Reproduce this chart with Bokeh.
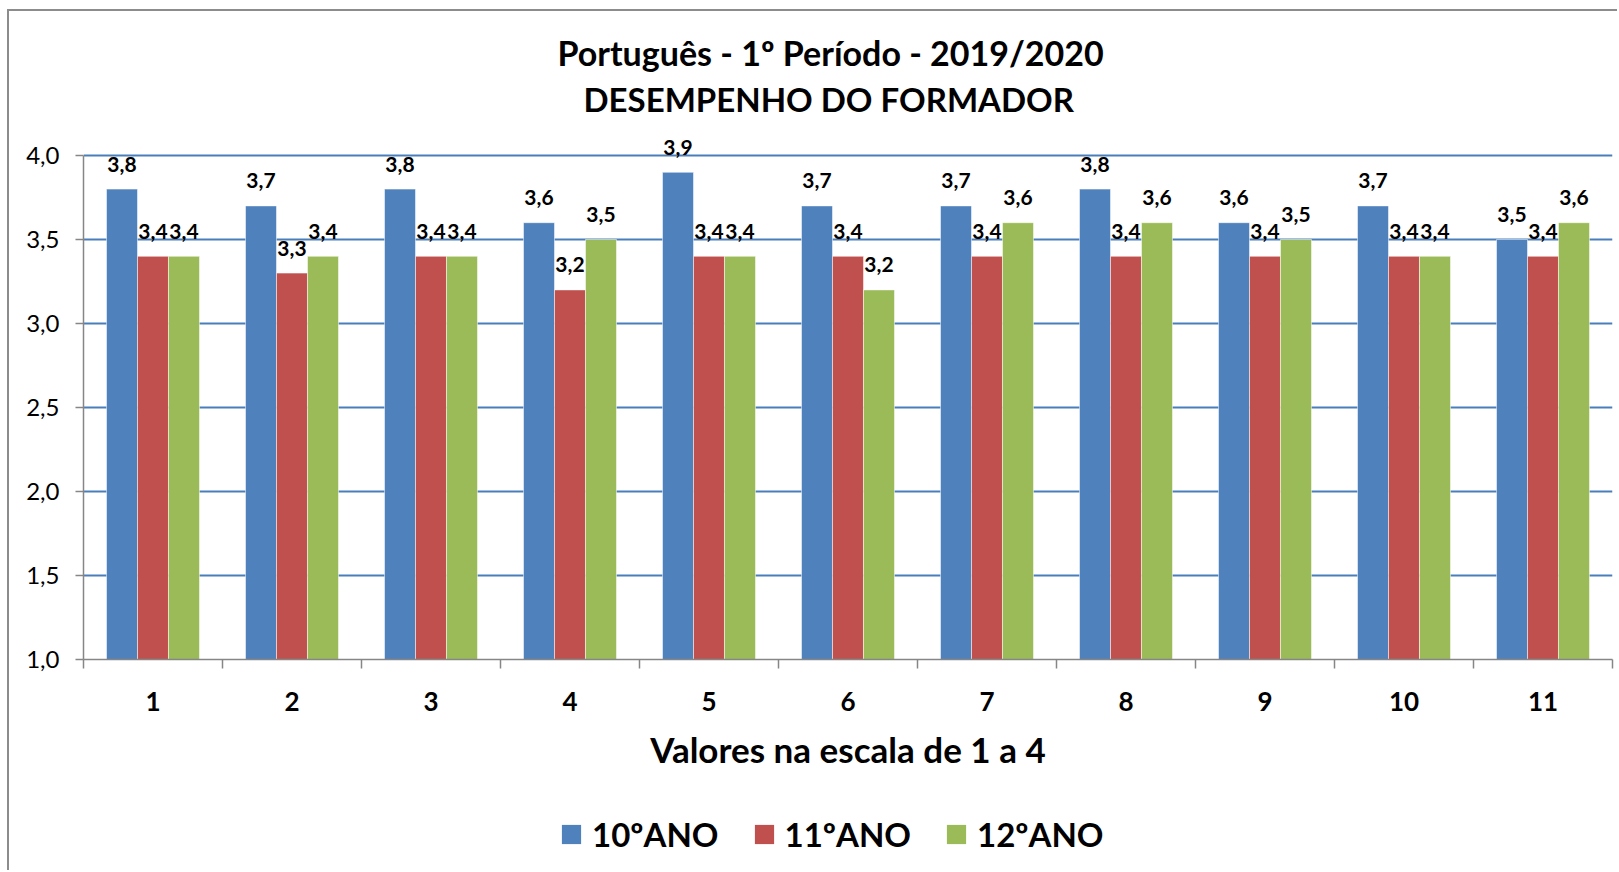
from bokeh.plotting import figure
from bokeh.models import (ColumnDataSource, Range1d, FixedTicker, Title, Legend, LegendItem)
from bokeh.layouts import column
from bokeh.transform import dodge
from bokeh.core.properties import value
from bokeh.embed import file_html
from bokeh.resources import INLINE

# ---- data ----
categories = ["1", "2", "3", "4", "5", "6", "7", "8", "9", "10", "11"]
ano10 = [3.8, 3.7, 3.8, 3.6, 3.9, 3.7, 3.7, 3.8, 3.6, 3.7, 3.5]
ano11 = [3.4, 3.3, 3.4, 3.2, 3.4, 3.4, 3.4, 3.4, 3.4, 3.4, 3.4]
ano12 = [3.4, 3.4, 3.4, 3.5, 3.4, 3.2, 3.6, 3.6, 3.5, 3.4, 3.6]
series_names = ["10ºANO", "11ºANO", "12ºANO"]
y_ticks = [1.0, 1.5, 2.0, 2.5, 3.0, 3.5, 4.0]
y_tick_labels = ["1,0", "1,5", "2,0", "2,5", "3,0", "3,5", "4,0"]
title_line1 = "Português  - 1º Período - 2019/2020"
title_line2 = "DESEMPENHO DO FORMADOR"
x_title = "Valores na escala de 1 a 4"

colors = ["#4F81BD", "#C0504D", "#9BBB59"]
FONT = "Lato"

xs = list(range(1, len(categories) + 1))
def fmt(v):
    return f"{v:.1f}".replace(".", ",")

src = ColumnDataSource(dict(
    x=xs,
    a10=ano10, a11=ano11, a12=ano12,
    l10=[fmt(v) for v in ano10], l11=[fmt(v) for v in ano11], l12=[fmt(v) for v in ano12],
))

W = 1608
p = figure(width=W, height=778, title=None,
           x_range=Range1d(0.5, len(categories) + 0.5), y_range=Range1d(1.0, 4.125),
           output_backend="svg", toolbar_location=None,
           min_border_left=74, min_border_right=5, min_border_top=123, min_border_bottom=130)
p.outline_line_color = None
p.background_fill_color = "white"
p.border_fill_color = "white"

bw = 0.223
offsets = [-bw, 0.0, bw]
fields = ["a10", "a11", "a12"]
labels = ["l10", "l11", "l12"]
for off, f, lab, c in zip(offsets, fields, labels, colors):
    p.vbar(x=dodge("x", off), top=f, bottom=1.0, width=bw, source=src,
           fill_color=c, line_color="white", line_alpha=0.5, line_width=1)
    p.text(x=dodge("x", off), y=f, text=lab, source=src, text_align="center",
           text_baseline="alphabetic", y_offset=-25, text_font=value(FONT),
           text_font_style="bold", text_font_size="21px", text_color="black")

# grid
p.xgrid.visible = False
p.ygrid.ticker = FixedTicker(ticks=y_ticks)
p.ygrid.grid_line_color = "#4A7EBB"
p.ygrid.grid_line_width = 2

# y axis
ya = p.yaxis[0]
ya.ticker = FixedTicker(ticks=y_ticks)
ya.bounds = (1.0, 4.0)
ya.major_label_overrides = {t: l for t, l in zip(y_ticks, y_tick_labels)}
ya.axis_line_color = "#868686"
ya.axis_line_width = 1.5
ya.major_tick_line_color = "#868686"
ya.major_tick_line_width = 1.5
ya.major_tick_out = 8
ya.major_tick_in = 0
ya.minor_tick_line_color = None
ya.major_label_text_font = FONT
ya.major_label_text_font_size = "24px"
ya.major_label_text_color = "black"
ya.major_label_standoff = 16

# x axis
xa = p.xaxis[0]
xa.ticker = FixedTicker(ticks=xs, minor_ticks=[x - 0.5 for x in xs] + [len(xs) + 0.5])
xa.major_label_overrides = {x: c for x, c in zip(xs, categories)}
xa.axis_line_color = "#868686"
xa.axis_line_width = 1.5
xa.major_tick_line_color = None
xa.major_tick_out = 0
xa.major_tick_in = 0
xa.minor_tick_line_color = "#868686"
xa.minor_tick_line_width = 1.5
xa.minor_tick_out = 9
xa.minor_tick_in = 0
xa.major_label_text_font = FONT
xa.major_label_text_font_style = "bold"
xa.major_label_text_font_size = "26px"
xa.major_label_text_color = "black"
xa.major_label_standoff = 23
xa.axis_label = x_title
xa.axis_label_text_font = FONT
xa.axis_label_text_font_style = "bold"
xa.axis_label_text_font_size = "35px"
xa.axis_label_text_color = "black"
xa.axis_label_standoff = 14

# titles (first added is closest to the frame)
spacer = Title(text=" ", text_font_size="1px", standoff=10)
t2 = Title(text=title_line2, align="left", offset=500, text_font=FONT, text_font_style="bold",
           text_font_size="33px", text_color="black", standoff=6)
t1 = Title(text=title_line1, align="left", offset=474, text_font=FONT, text_font_style="bold",
           text_font_size="34px", text_color="black", standoff=2)
p.add_layout(spacer, "above")
p.add_layout(t2, "above")
p.add_layout(t1, "above")

# legend strip below the chart (its bars sit outside the visible range)
pl = figure(width=W, height=81, x_range=Range1d(100, 101), y_range=Range1d(100, 101),
            x_axis_type=None, y_axis_type=None, output_backend="svg", toolbar_location=None,
            min_border=0)
pl.outline_line_color = None
pl.xgrid.visible = False
pl.ygrid.visible = False
leg_renderers = [pl.vbar(x=xs, top=vals, width=bw, fill_color=c, line_color=None)
                 for vals, c in zip([ano10, ano11, ano12], colors)]
legend = Legend(items=[LegendItem(label=n, renderers=[r]) for n, r in zip(series_names, leg_renderers)],
                orientation="horizontal", location=(476, 16),
                label_text_font=FONT, label_text_font_style="bold", label_text_font_size="33px",
                label_text_color="black",
                glyph_width=24, glyph_height=24, label_standoff=9, spacing=33,
                border_line_color=None, background_fill_alpha=0, margin=0, padding=0)
pl.add_layout(legend, "center")

layout = column(p, pl, spacing=0,
                styles={"margin-left": "7px", "margin-top": "9px",
                        "border-left": "2px solid #8c8c8c", "border-top": "2px solid #8c8c8c"})

open("out.html", "w").write(file_html(layout, INLINE))
